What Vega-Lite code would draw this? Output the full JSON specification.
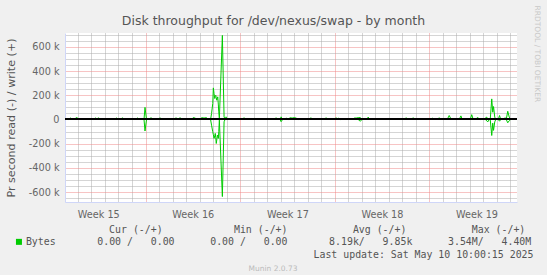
{
  "$schema": "https://vega.github.io/schema/vega-lite/v6.json",
  "width": 452,
  "height": 169,
  "autosize": "none",
  "padding": {"left": 65, "top": 33, "right": 30, "bottom": 73},
  "background": "#F0F0F0",
  "config": {
    "view": {"fill": "#FFFFFF", "stroke": null},
    "font": "DejaVu Sans"
  },
  "title": {
    "text": "Disk throughput for /dev/nexus/swap - by month",
    "font": "DejaVu Sans",
    "fontSize": 12.5,
    "fontWeight": "normal",
    "color": "#555555",
    "anchor": "middle",
    "frame": "group",
    "baseline": "alphabetic",
    "offset": 9,
    "dx": -17.5,
    "dy": 41
  },
  "data": {
    "values": [
      {"day": 0.037, "write": 0, "read": 0},
      {"day": 0.333, "write": 0, "read": 0},
      {"day": 0.444, "write": 12000, "read": 0},
      {"day": 0.556, "write": 0, "read": 0},
      {"day": 0.778, "write": 0, "read": 0},
      {"day": 0.852, "write": 15000, "read": 0},
      {"day": 0.963, "write": 12000, "read": 0},
      {"day": 1.074, "write": 0, "read": 0},
      {"day": 2.185, "write": 0, "read": 0},
      {"day": 2.296, "write": 12000, "read": 0},
      {"day": 2.407, "write": 0, "read": 0},
      {"day": 2.519, "write": 15000, "read": 0},
      {"day": 2.63, "write": 0, "read": 0},
      {"day": 3.741, "write": 0, "read": 0},
      {"day": 3.852, "write": 12000, "read": 0},
      {"day": 3.963, "write": 0, "read": 0},
      {"day": 4.222, "write": 0, "read": 0},
      {"day": 4.296, "write": 15000, "read": 0},
      {"day": 4.407, "write": 0, "read": 0},
      {"day": 5.296, "write": 0, "read": 0},
      {"day": 5.407, "write": 12000, "read": 0},
      {"day": 5.519, "write": 0, "read": 0},
      {"day": 5.889, "write": 0, "read": 0},
      {"day": 5.963, "write": 100000, "read": -95000},
      {"day": 6.074, "write": 0, "read": 0},
      {"day": 6.333, "write": 0, "read": 0},
      {"day": 6.407, "write": 16000, "read": 0},
      {"day": 6.519, "write": 0, "read": 0},
      {"day": 7.0, "write": 0, "read": 0},
      {"day": 7.074, "write": 15000, "read": 0},
      {"day": 7.185, "write": 0, "read": 0},
      {"day": 7.963, "write": 0, "read": 0},
      {"day": 8.037, "write": 12000, "read": 0},
      {"day": 8.148, "write": 0, "read": 0},
      {"day": 8.259, "write": 15000, "read": 0},
      {"day": 8.37, "write": 0, "read": 0},
      {"day": 8.481, "write": 0, "read": 0},
      {"day": 8.556, "write": 16000, "read": 0},
      {"day": 8.63, "write": 0, "read": 0},
      {"day": 9.074, "write": 0, "read": 0},
      {"day": 9.148, "write": 12000, "read": 0},
      {"day": 9.222, "write": 0, "read": 0},
      {"day": 9.444, "write": 0, "read": 0},
      {"day": 9.519, "write": 15000, "read": 0},
      {"day": 9.667, "write": 12000, "read": 0},
      {"day": 9.815, "write": 0, "read": 0},
      {"day": 10.037, "write": 0, "read": 0},
      {"day": 10.148, "write": 15000, "read": 0},
      {"day": 10.333, "write": 12000, "read": 0},
      {"day": 10.519, "write": 15000, "read": 0},
      {"day": 10.63, "write": 0, "read": 0},
      {"day": 10.815, "write": 0, "read": 0},
      {"day": 10.889, "write": 49000, "read": -47000},
      {"day": 10.978, "write": 132000, "read": -101000},
      {"day": 11.022, "write": 261000, "read": -125000},
      {"day": 11.074, "write": 214000, "read": -156000},
      {"day": 11.126, "write": 173000, "read": -135000},
      {"day": 11.163, "write": 190000, "read": -115000},
      {"day": 11.2, "write": 200000, "read": -150000},
      {"day": 11.237, "write": 180000, "read": -198000},
      {"day": 11.274, "write": 159000, "read": -170000},
      {"day": 11.319, "write": 175000, "read": -129000},
      {"day": 11.348, "write": 187000, "read": -140000},
      {"day": 11.393, "write": 120000, "read": -156000},
      {"day": 11.422, "write": 63000, "read": -100000},
      {"day": 11.467, "write": 8000, "read": -5000},
      {"day": 11.689, "write": 694000, "read": -636000},
      {"day": 11.815, "write": 22000, "read": -19000},
      {"day": 11.889, "write": 0, "read": 0},
      {"day": 11.963, "write": 22000, "read": 0},
      {"day": 12.037, "write": 0, "read": 0},
      {"day": 13.222, "write": 0, "read": 0},
      {"day": 13.296, "write": 15000, "read": 0},
      {"day": 13.407, "write": 0, "read": 0},
      {"day": 13.963, "write": 0, "read": 0},
      {"day": 14.037, "write": 12000, "read": 0},
      {"day": 14.148, "write": 0, "read": 0},
      {"day": 14.926, "write": 0, "read": 0},
      {"day": 15.0, "write": 12000, "read": 0},
      {"day": 15.111, "write": 0, "read": 0},
      {"day": 15.593, "write": 0, "read": 0},
      {"day": 15.667, "write": 15000, "read": 0},
      {"day": 15.778, "write": 0, "read": 0},
      {"day": 15.963, "write": 0, "read": 0},
      {"day": 16.037, "write": 22000, "read": -18000},
      {"day": 16.148, "write": 0, "read": 0},
      {"day": 16.259, "write": 0, "read": 0},
      {"day": 16.407, "write": 12000, "read": 0},
      {"day": 16.556, "write": 0, "read": 0},
      {"day": 16.704, "write": 15000, "read": 0},
      {"day": 16.852, "write": 12000, "read": 0},
      {"day": 17.0, "write": 15000, "read": 0},
      {"day": 17.148, "write": 12000, "read": 0},
      {"day": 17.296, "write": 0, "read": 0},
      {"day": 17.963, "write": 0, "read": 0},
      {"day": 18.037, "write": 12000, "read": 0},
      {"day": 18.111, "write": 0, "read": 0},
      {"day": 18.259, "write": 15000, "read": 0},
      {"day": 18.37, "write": 0, "read": 0},
      {"day": 19.296, "write": 0, "read": 0},
      {"day": 19.37, "write": 15000, "read": 0},
      {"day": 19.481, "write": 0, "read": 0},
      {"day": 20.037, "write": 0, "read": 0},
      {"day": 20.111, "write": 15000, "read": 0},
      {"day": 20.222, "write": 0, "read": 0},
      {"day": 20.296, "write": 12000, "read": 0},
      {"day": 20.407, "write": 0, "read": 0},
      {"day": 21.37, "write": 0, "read": 0},
      {"day": 21.444, "write": 12000, "read": 0},
      {"day": 21.593, "write": 12000, "read": 0},
      {"day": 21.741, "write": 15000, "read": 0},
      {"day": 21.889, "write": 16000, "read": -14000},
      {"day": 22.037, "write": 0, "read": 0},
      {"day": 22.407, "write": 0, "read": 0},
      {"day": 22.481, "write": 20000, "read": 0},
      {"day": 22.593, "write": 0, "read": 0},
      {"day": 24.852, "write": 0, "read": 0},
      {"day": 24.926, "write": 12000, "read": 0},
      {"day": 25.0, "write": 0, "read": 0},
      {"day": 25.222, "write": 0, "read": 0},
      {"day": 25.296, "write": 15000, "read": 0},
      {"day": 25.37, "write": 0, "read": 0},
      {"day": 25.741, "write": 0, "read": 0},
      {"day": 25.815, "write": 15000, "read": 0},
      {"day": 25.889, "write": 0, "read": 0},
      {"day": 26.481, "write": 0, "read": 0},
      {"day": 26.556, "write": 12000, "read": 0},
      {"day": 26.63, "write": 0, "read": 0},
      {"day": 26.926, "write": 0, "read": 0},
      {"day": 27.0, "write": 12000, "read": 0},
      {"day": 27.074, "write": 0, "read": 0},
      {"day": 27.222, "write": 12000, "read": 0},
      {"day": 27.333, "write": 0, "read": 0},
      {"day": 27.667, "write": 0, "read": 0},
      {"day": 27.741, "write": 15000, "read": 0},
      {"day": 27.852, "write": 0, "read": 0},
      {"day": 28.333, "write": 0, "read": 0},
      {"day": 28.481, "write": 33000, "read": 0},
      {"day": 28.63, "write": 0, "read": 0},
      {"day": 29.222, "write": 0, "read": 0},
      {"day": 29.348, "write": 30000, "read": 0},
      {"day": 29.444, "write": 0, "read": 0},
      {"day": 30.037, "write": 0, "read": 0},
      {"day": 30.148, "write": 40000, "read": 0},
      {"day": 30.259, "write": 0, "read": 0},
      {"day": 30.481, "write": 0, "read": 0},
      {"day": 30.556, "write": 16000, "read": 0},
      {"day": 30.63, "write": 12000, "read": 0},
      {"day": 30.778, "write": 0, "read": 0},
      {"day": 31.148, "write": 0, "read": 0},
      {"day": 31.222, "write": 20000, "read": -5000},
      {"day": 31.333, "write": 10000, "read": -20000},
      {"day": 31.444, "write": 0, "read": 0},
      {"day": 31.519, "write": 0, "read": 0},
      {"day": 31.63, "write": 170000, "read": -132000},
      {"day": 31.704, "write": 60000, "read": -30000},
      {"day": 31.763, "write": 107000, "read": -90000},
      {"day": 31.852, "write": 20000, "read": -20000},
      {"day": 31.926, "write": 0, "read": 0},
      {"day": 32.111, "write": 0, "read": 0},
      {"day": 32.207, "write": 33000, "read": -14000},
      {"day": 32.296, "write": 0, "read": 0},
      {"day": 32.481, "write": 0, "read": 0},
      {"day": 32.63, "write": 15000, "read": 0},
      {"day": 32.704, "write": 0, "read": 0},
      {"day": 32.815, "write": 68000, "read": -27000},
      {"day": 32.926, "write": 20000, "read": -10000},
      {"day": 33.037, "write": 0, "read": 0},
      {"day": 33.148, "write": 0, "read": 0},
      {"day": 33.222, "write": 12000, "read": 0},
      {"day": 33.296, "write": 0, "read": 0},
      {"day": 33.422, "write": 0, "read": 0}
    ]
  },
  "resolve": {"axis": {"x": "independent", "y": "independent"}},
  "layer": [
    {
      "mark": {"type": "line", "strokeWidth": 1, "clip": true},
      "encoding": {
        "x": {
          "field": "day", "type": "quantitative",
          "scale": {"domain": [0.04, 33.5], "nice": false, "zero": false},
          "axis": {
            "orient": "bottom",
            "values": [1,2,3,4,5,6,7,8,9,10,11,12,13,14,15,16,17,18,19,20,21,22,23,24,25,26,27,28,29,30,31,32,33,2.5,9.5,16.5,23.5,30.5],
            "labelExpr": "datum.value % 1 ? 'Week ' + (15 + (datum.value - 2.5) / 7) : ''",
            "labelFont": "DejaVu Sans", "labelFontSize": 9.7, "labelColor": "#666666",
            "labelPadding": 7, "labelBaseline": "top", "labelOverlap": false, "labelFlush": false,
            "ticks": false,
            "domainColor": "#CFD6F8", "domainWidth": 1,
            "grid": true,
            "gridColor": {"condition": {"test": "(datum.value - 6) % 7 === 0", "value": "#EE8888"}, "value": "#AAAAAA"},
            "gridOpacity": {"condition": {"test": "datum.value % 1 !== 0", "value": 0}, "value": 1},
            "gridDash": [1, 1],
            "title": "Last update: Sat May 10 10:00:15 2025",
            "titleFont": "DejaVu Sans Mono", "titleFontSize": 9.9, "titleFontWeight": "normal", "titleColor": "#555555",
            "titleX": 468, "titleY": 55, "titleAlign": "right", "titleBaseline": "alphabetic", "titleLimit": 1000
          }
        },
        "y": {
          "field": "write", "type": "quantitative",
          "scale": {"domain": [-681000, 714000], "nice": false, "zero": false},
          "axis": {
            "orient": "left",
            "values": [-650000,-600000,-550000,-500000,-450000,-400000,-350000,-300000,-250000,-200000,-150000,-100000,-50000,0,50000,100000,150000,200000,250000,300000,350000,400000,450000,500000,550000,600000,650000,700000],
            "labelExpr": "datum.value % 200000 ? '' : (datum.value == 0 ? '0' : (datum.value / 1000) + ' k')",
            "labelFont": "DejaVu Sans", "labelFontSize": 9.7, "labelColor": "#666666",
            "labelPadding": 6, "labelOverlap": false, "labelFlush": false,
            "ticks": false,
            "domainColor": "#CFD6F8", "domainWidth": 1,
            "grid": true,
            "gridColor": {"condition": {"test": "datum.value % 200000 === 0", "value": "#EE8888"}, "value": "#AAAAAA"},
            "gridDash": [1, 1],
            "title": "Pr second read (-) / write (+)",
            "titleFont": "DejaVu Sans", "titleFontSize": 11.1, "titleFontWeight": "normal", "titleColor": "#555555",
            "titleAngle": 270, "titleX": -53.5, "titleY": 84.5, "titleAlign": "center", "titleBaseline": "middle"
          }
        },
        "color": {
          "datum": "Bytes\u00a0\u00a0\u00a0\u00a0\u00a0\u00a0\u00a00.00\u00a0/\u00a0\u00a0\u00a00.00\u00a0\u00a0\u00a0\u00a0\u00a0\u00a00.00\u00a0/\u00a0\u00a0\u00a00.00\u00a0\u00a0\u00a0\u00a0\u00a0\u00a0\u00a08.19k/\u00a0\u00a0\u00a09.85k\u00a0\u00a0\u00a0\u00a0\u00a0\u00a03.54M/\u00a0\u00a0\u00a04.40M",
          "scale": {"range": ["#00CC00"]},
          "legend": {
            "orient": "none", "legendX": -51, "legendY": 192,
            "padding": 0,
            "title": "\u200b\u00a0\u00a0\u00a0\u00a0\u00a0\u00a0\u00a0\u00a0\u00a0\u00a0\u00a0\u00a0\u00a0\u00a0\u00a0\u00a0Cur\u00a0(-/+)\u00a0\u00a0\u00a0\u00a0\u00a0\u00a0\u00a0\u00a0\u00a0\u00a0\u00a0\u00a0Min\u00a0(-/+)\u00a0\u00a0\u00a0\u00a0\u00a0\u00a0\u00a0\u00a0\u00a0\u00a0\u00a0Avg\u00a0(-/+)\u00a0\u00a0\u00a0\u00a0\u00a0\u00a0\u00a0\u00a0\u00a0\u00a0\u00a0Max\u00a0(-/+)",
            "titleFont": "DejaVu Sans Mono", "titleFontSize": 9.9, "titleFontWeight": "normal", "titleColor": "#555555",
            "titlePadding": 2, "titleAnchor": "start", "titleLimit": 1000,
            "labelFont": "DejaVu Sans Mono", "labelFontSize": 9.9, "labelColor": "#555555", "labelLimit": 1000,
            "labelOffset": 2,
            "symbolType": "square", "symbolSize": 36, "symbolFillColor": "#00CC00", "symbolStrokeColor": "#00CC00", "symbolStrokeWidth": 0, "symbolOpacity": 1
          }
        }
      }
    },
    {
      "mark": {"type": "line", "strokeWidth": 1, "clip": true},
      "encoding": {
        "x": {
          "field": "day", "type": "quantitative",
          "axis": {
            "orient": "bottom", "grid": false, "labels": false, "ticks": false, "domain": false,
            "title": "Munin 2.0.73",
            "titleFont": "DejaVu Sans", "titleFontSize": 7.5, "titleFontWeight": "normal", "titleColor": "#BBBBBB",
            "titleX": 207.5, "titleY": 68, "titleAlign": "center", "titleBaseline": "alphabetic"
          }
        },
        "y": {
          "field": "read", "type": "quantitative",
          "axis": {
            "orient": "right", "grid": false, "labels": false, "ticks": false, "domain": false,
            "title": "RRDTOOL / TOBI OETIKER",
            "titleFont": "DejaVu Sans", "titleFontSize": 7.5, "titleFontWeight": "normal", "titleColor": "#C8C8C8",
            "titleAngle": 90, "titleX": 19.3, "titleY": 20.3, "titleAlign": "center", "titleBaseline": "middle"
          }
        },
        "color": {
          "datum": "Bytes\u00a0\u00a0\u00a0\u00a0\u00a0\u00a0\u00a00.00\u00a0/\u00a0\u00a0\u00a00.00\u00a0\u00a0\u00a0\u00a0\u00a0\u00a00.00\u00a0/\u00a0\u00a0\u00a00.00\u00a0\u00a0\u00a0\u00a0\u00a0\u00a0\u00a08.19k/\u00a0\u00a0\u00a09.85k\u00a0\u00a0\u00a0\u00a0\u00a0\u00a03.54M/\u00a0\u00a0\u00a04.40M"
        }
      }
    },
    {
      "mark": {"type": "rule", "color": "#000000", "strokeWidth": 1},
      "encoding": {
        "y": {"datum": 0, "type": "quantitative", "axis": null}
      }
    }
  ]
}
